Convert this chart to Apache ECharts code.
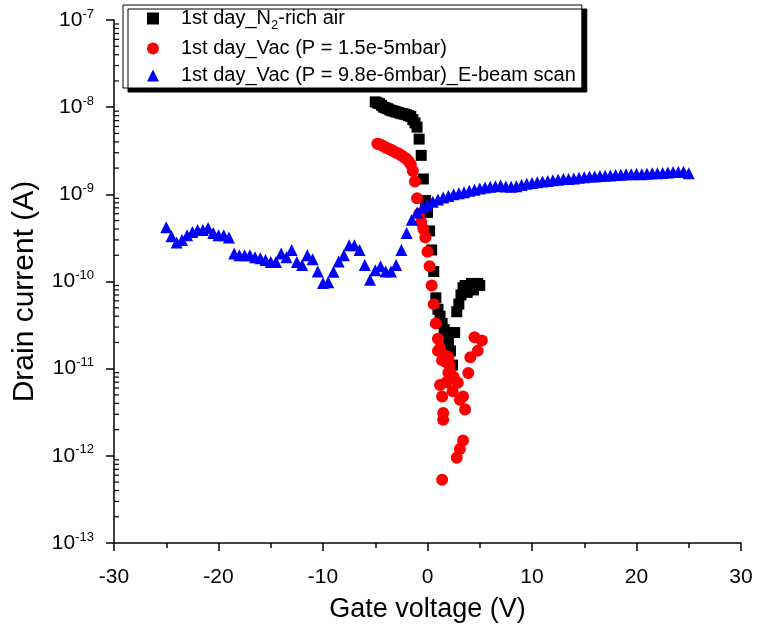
<!DOCTYPE html>
<html>
<head>
<meta charset="utf-8">
<script src="https://cdn.jsdelivr.net/npm/echarts@6/dist/echarts.min.js"></script>
<style>
  html, body { margin: 0; padding: 0; background: #fff; }
  #chart { width: 759px; height: 630px; }
</style>
</head>
<body>
<div id="chart"></div>
<script>
// Transfer curves: drain current vs gate voltage
const seriesNames = [
  '1st day_N2-rich air',
  '1st day_Vac (P = 1.5e-5mbar)',
  '1st day_Vac (P = 9.8e-6mbar)_E-beam scan'
];

// N2-rich air sweep
const n2Voltage = [-5.0, -4.8, -4.6, -4.4, -4.2, -4.0, -3.8, -3.6, -3.4, -3.2, -3.0, -2.8, -2.6, -2.4, -2.2, -2.0,
  -1.8, -1.6, -1.4, -1.2, -1.0, -0.8, -0.6, -0.4, -0.2, 0.0, 0.2, 0.4, 0.6, 0.8, 1.0, 1.2, 1.4, 1.6, 1.8, 2.0,
  2.2, 2.4, 2.6, 2.8, 3.0, 3.2, 3.4, 3.6, 3.8, 4.0, 4.2, 4.4, 4.6, 4.8, 5.0];
const n2Current = [1.15e-8, 1.12e-8, 1.1e-8, 1.05e-8, 1.0e-8, 9.8e-9, 9.6e-9, 9.3e-9, 9.1e-9, 9.0e-9, 8.8e-9,
  8.7e-9, 8.5e-9, 8.4e-9, 8.3e-9, 8.2e-9, 8.0e-9, 7.8e-9, 7.2e-9, 6.6e-9, 5.9e-9, 4.3e-9, 2.8e-9, 1.5e-9,
  8.5e-10, 6.2e-10, 3.8e-10, 2.3e-10, 1.3e-10, 6.5e-11, 4.8e-11, 4.0e-11, 3.3e-11, 2.8e-11, 2.4e-11, 2.1e-11,
  1.6e-11, 1.1e-11, 2.6e-11, 4.5e-11, 5.5e-11, 7.0e-11, 8.5e-11, 9.0e-11, 7.5e-11, 8.5e-11, 9.5e-11, 8.0e-11,
  9.0e-11, 9.5e-11, 9.0e-11];

// Vacuum (1.5e-5 mbar) sweep
const vacVoltage = [-4.8, -4.6, -4.4, -4.2, -4.0, -3.8, -3.6, -3.4, -3.2, -3.0, -2.8, -2.6, -2.4, -2.2, -2.0,
  -1.8, -1.6, -1.4, -1.2, -1.0, -0.8, -0.6, -0.4, -0.2, 0.0, 0.2, 0.4, 0.6, 0.8, 1.0, 1.0, 1.2, 1.2, 1.4, 1.4,
  1.5, 1.5, 1.4, 1.7, 1.8, 2.0, 2.0, 2.1, 2.2, 1.8, 2.4, 2.5, 2.9, 3.1, 3.4, 3.6, 3.4, 3.1, 2.8, 3.9, 4.1,
  4.5, 4.8, 5.2];
const vacCurrent = [3.8e-9, 3.75e-9, 3.65e-9, 3.55e-9, 3.45e-9, 3.35e-9, 3.3e-9, 3.2e-9, 3.1e-9, 3.0e-9,
  2.95e-9, 2.85e-9, 2.75e-9, 2.65e-9, 2.55e-9, 2.4e-9, 2.2e-9, 1.85e-9, 1.4e-9, 9.0e-10, 6.0e-10, 4.8e-10,
  4.0e-10, 3.2e-10, 2.2e-10, 1.5e-10, 9.0e-11, 5.5e-11, 3.3e-11, 2.2e-11, 1.6e-11, 1.7e-11, 6.5e-12,
  1.25e-11, 4.8e-12, 3.1e-12, 2.6e-12, 5.3e-13, 1.2e-11, 1.4e-11, 9.0e-12, 1.35e-11, 1.1e-11, 9.0e-12,
  7.0e-12, 5.5e-12, 8.0e-12, 6.9e-12, 4.4e-12, 4.8e-12, 3.4e-12, 1.5e-12, 1.2e-12, 9.5e-13, 8.9e-12,
  1.35e-11, 2.3e-11, 1.6e-11, 2.1e-11];

// Vacuum (9.8e-6 mbar) sweep after E-beam scan
const ebeamVoltage = [-25.0, -24.5, -24.0, -23.5, -23.0, -22.5, -22.0, -21.5, -21.0, -20.5, -20.0, -19.5,
  -19.0, -18.5, -18.0, -17.5, -17.0, -16.5, -16.0, -15.5, -15.0, -14.5, -14.0, -13.5, -13.0, -12.5, -12.0,
  -11.5, -11.0, -10.5, -10.0, -9.5, -9.0, -8.5, -8.0, -7.5, -7.0, -6.5, -6.0, -5.5, -5.0, -4.5, -4.0, -3.5,
  -3.0, -2.5, -2.0, -1.5, -1.0, -0.5, 0.0, 0.5, 1.0, 1.5, 2.0, 2.5, 3.0, 3.5, 4.0, 4.5, 5.0, 5.5, 6.0, 6.5,
  7.0, 7.5, 8.0, 8.5, 9.0, 9.5, 10.0, 10.5, 11.0, 11.5, 12.0, 12.5, 13.0, 13.5, 14.0, 14.5, 15.0, 15.5,
  16.0, 16.5, 17.0, 17.5, 18.0, 18.5, 19.0, 19.5, 20.0, 20.5, 21.0, 21.5, 22.0, 22.5, 23.0, 23.5, 24.0,
  24.5, 25.0];
const ebeamCurrent = [4.2e-10, 3.3e-10, 2.8e-10, 3.0e-10, 3.4e-10, 3.7e-10, 3.9e-10, 3.9e-10, 4.1e-10,
  3.6e-10, 3.4e-10, 3.4e-10, 3.2e-10, 2.1e-10, 2.0e-10, 2.0e-10, 2.0e-10, 1.9e-10, 1.85e-10, 1.77e-10,
  1.67e-10, 1.67e-10, 2.1e-10, 1.9e-10, 2.3e-10, 1.67e-10, 1.55e-10, 2.0e-10, 1.8e-10, 1.3e-10, 9.6e-11,
  9.8e-11, 1.29e-10, 1.7e-10, 2.0e-10, 2.6e-10, 2.6e-10, 2.3e-10, 1.55e-10, 1.05e-10, 1.35e-10, 1.5e-10,
  1.3e-10, 1.3e-10, 1.55e-10, 2.3e-10, 3.6e-10, 5.1e-10, 6.2e-10, 7.0e-10, 7.6e-10, 8.2e-10, 8.7e-10,
  9.2e-10, 9.6e-10, 1.0e-9, 1.03e-9, 1.06e-9, 1.1e-9, 1.13e-9, 1.17e-9, 1.2e-9, 1.22e-9, 1.24e-9, 1.26e-9,
  1.23e-9, 1.22e-9, 1.24e-9, 1.28e-9, 1.32e-9, 1.35e-9, 1.38e-9, 1.4e-9, 1.42e-9, 1.45e-9, 1.47e-9, 1.5e-9,
  1.5e-9, 1.52e-9, 1.55e-9, 1.57e-9, 1.6e-9, 1.6e-9, 1.62e-9, 1.63e-9, 1.65e-9, 1.67e-9, 1.68e-9, 1.7e-9,
  1.7e-9, 1.72e-9, 1.7e-9, 1.72e-9, 1.74e-9, 1.75e-9, 1.76e-9, 1.78e-9, 1.8e-9, 1.8e-9, 1.82e-9, 1.75e-9];

// Axis ranges and log-decade minor tick multipliers
const xTicks = [-30, -20, -10, 0, 10, 20, 30];
const yMinExp = -13;
const yMaxExp = -7;
const minorMultipliers = [2, 3, 4, 5, 6, 7, 8, 9];

const FONT = '"Liberation Sans", Arial, sans-serif';

function pairs(xs, ys) {
  return xs.map((x, i) => [x, ys[i]]);
}

// Minor tick positions on the log axis (one set per decade)
const minorTickData = [];
for (let e = yMinExp; e < yMaxExp; e++) {
  minorMultipliers.forEach(m => minorTickData.push([xTicks[0], m * Math.pow(10, e)]));
}

const chart = echarts.init(document.getElementById('chart'), null, { renderer: 'canvas' });

chart.setOption({
  backgroundColor: '#fff',
  animation: false,
  grid: { left: 114, right: 18, top: 20, bottom: 87 },
  legend: {
    orient: 'vertical',
    left: 123,
    top: 5,
    padding: [3, 6, 2, 24],
    itemGap: 6,
    itemWidth: 12,
    itemHeight: 12,
    backgroundColor: '#fff',
    borderColor: '#000',
    borderWidth: 1,
    borderRadius: 0,
    shadowColor: '#000',
    shadowBlur: 0,
    shadowOffsetX: 5,
    shadowOffsetY: 4,
    data: [
      { name: seriesNames[0], icon: 'rect', itemStyle: { color: '#000' } },
      { name: seriesNames[1], icon: 'circle', itemStyle: { color: '#ff0000' } },
      { name: seriesNames[2], icon: 'triangle', itemStyle: { color: '#0000ff' } }
    ],
    formatter: name => name === seriesNames[0] ? '1st day_N{sub|2}-rich air' : name,
    textStyle: {
      fontFamily: FONT,
      fontSize: 20,
      color: '#000',
      lineHeight: 21,
      padding: [0, 0, 0, 17],
      rich: {
        sub: { fontFamily: FONT, fontSize: 13, color: '#000', verticalAlign: 'top', lineHeight: 12, padding: [11, 0, 0, 0] }
      }
    }
  },
  xAxis: {
    type: 'value',
    min: -30,
    max: 30,
    interval: 10,
    name: 'Gate voltage (V)',
    nameLocation: 'middle',
    nameGap: 53,
    nameTextStyle: { fontFamily: FONT, fontSize: 27, color: '#000' },
    axisLine: { show: true, onZero: false, lineStyle: { color: '#000', width: 1.5 } },
    axisTick: { show: true, inside: false, length: 8, lineStyle: { color: '#000', width: 1.5 } },
    minorTick: { show: true, splitNumber: 2, length: 5, lineStyle: { color: '#000', width: 1.5 } },
    axisLabel: { fontFamily: FONT, fontSize: 21, color: '#000', margin: 24 },
    splitLine: { show: false }
  },
  yAxis: {
    type: 'log',
    logBase: 10,
    min: Math.pow(10, yMinExp),
    max: Math.pow(10, yMaxExp),
    name: 'Drain current (A)',
    nameLocation: 'middle',
    nameGap: 74,
    nameTextStyle: { fontFamily: FONT, fontSize: 30, color: '#000', padding: [0, 20, 0, 0] },
    axisLine: { show: true, onZero: false, lineStyle: { color: '#000', width: 1.5 } },
    axisTick: { show: true, inside: false, length: 8, lineStyle: { color: '#000', width: 1.5 } },
    axisLabel: {
      fontFamily: FONT,
      fontSize: 21,
      color: '#000',
      margin: 20,
      formatter: v => '10{sup|' + Math.round(Math.log10(v)) + '}',
      rich: {
        sup: { fontFamily: FONT, fontSize: 13, color: '#000', verticalAlign: 'top', padding: [0, 0, 12, 0] }
      }
    },
    splitLine: { show: false }
  },
  series: [
    {
      name: seriesNames[0],
      type: 'scatter',
      symbol: 'rect',
      symbolSize: 11,
      itemStyle: { color: '#000', opacity: 1 },
      data: pairs(n2Voltage, n2Current)
    },
    {
      name: seriesNames[1],
      type: 'scatter',
      symbol: 'circle',
      symbolSize: 12,
      itemStyle: { color: '#ff0000', opacity: 1 },
      data: pairs(vacVoltage, vacCurrent)
    },
    {
      name: seriesNames[2],
      type: 'scatter',
      symbol: 'triangle',
      symbolSize: 12,
      itemStyle: { color: '#0000ff', opacity: 1 },
      data: pairs(ebeamVoltage, ebeamCurrent)
    },
    {
      // inward minor ticks of the logarithmic current axis
      name: 'yMinorTicks',
      type: 'custom',
      silent: true,
      clip: false,
      z: 5,
      data: minorTickData,
      renderItem: (params, api) => {
        const p = api.coord([api.value(0), api.value(1)]);
        return {
          type: 'line',
          shape: { x1: p[0], y1: p[1], x2: p[0] + 5, y2: p[1] },
          style: { stroke: '#000', lineWidth: 1.2 }
        };
      }
    }
  ]
});
</script>
</body>
</html>
